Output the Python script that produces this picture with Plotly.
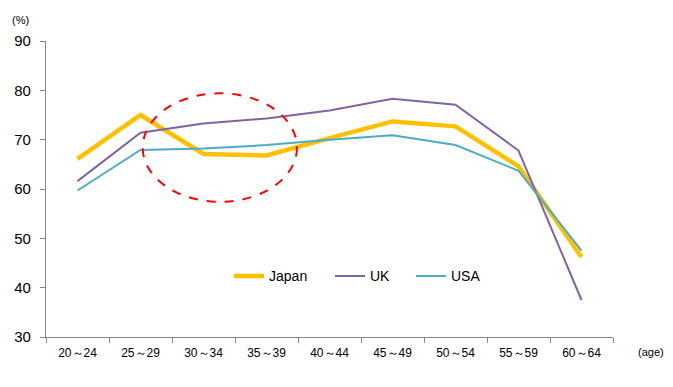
import plotly.graph_objects as go

categories = ["20～24", "25～29", "30～34", "35～39", "40～44", "45～49", "50～54", "55～59", "60～64"]
japan = [66.1, 75.0, 67.1, 66.8, 70.3, 73.7, 72.7, 64.6, 46.2]
uk = [61.6, 71.4, 73.3, 74.3, 75.9, 78.3, 77.1, 67.8, 37.5]
usa = [59.7, 67.9, 68.2, 68.9, 70.0, 70.9, 68.9, 63.7, 47.5]

fig = go.Figure()
fig.add_trace(go.Scatter(x=categories, y=japan, name="Japan", mode="lines",
                         line=dict(color="#FFC000", width=4.5), legend="legend"))
fig.add_trace(go.Scatter(x=categories, y=uk, name="UK", mode="lines",
                         line=dict(color="#8064A2", width=2), legend="legend2"))
fig.add_trace(go.Scatter(x=categories, y=usa, name="USA", mode="lines",
                         line=dict(color="#4BACC6", width=2), legend="legend3"))

fig.add_shape(type="circle", xref="x", yref="y", x0=1.035, x1=3.484, y0=57.4, y1=79.4,
              line=dict(color="#FF0000", width=2, dash="dash"))

leg = dict(orientation="h", y=0.205, xanchor="left", yanchor="middle",
           font=dict(size=14), bgcolor="rgba(0,0,0,0)", itemwidth=30)

fig.update_layout(
    width=665, height=379,
    margin=dict(l=38, r=60, t=33, b=50, autoexpand=False),
    paper_bgcolor="white", plot_bgcolor="white",
    font=dict(family="Arial, Liberation Sans, sans-serif", color="black"),
    showlegend=True,
    legend=dict(leg, x=0.3228),
    legend2=dict(leg, x=0.5009),
    legend3=dict(leg, x=0.6437),
    xaxis=dict(type="category", range=[-0.5, 8.5], showline=True, linecolor="#868686",
               linewidth=1.3, ticks="outside", tickson="boundaries", ticklen=5,
               tickcolor="#868686", showgrid=False, tickfont=dict(size=12),
               zeroline=False, automargin=False, ticklabelstandoff=4),
    yaxis=dict(range=[30, 90], dtick=10, showline=True, linecolor="#868686", linewidth=1.3,
               ticks="outside", ticklen=5, tickcolor="#868686", showgrid=False,
               tickfont=dict(size=15), zeroline=False, automargin=False,
               ticklabelstandoff=6),
    annotations=[
        dict(text="(%)", xref="paper", yref="paper", x=-0.0635, y=1.071, xanchor="left",
             yanchor="middle", showarrow=False, font=dict(size=11)),
        dict(text="(age)", xref="paper", yref="paper", x=1.0406, y=-0.05, xanchor="left",
             yanchor="middle", showarrow=False, font=dict(size=11)),
    ],
)

fig.write_html("out.html")
